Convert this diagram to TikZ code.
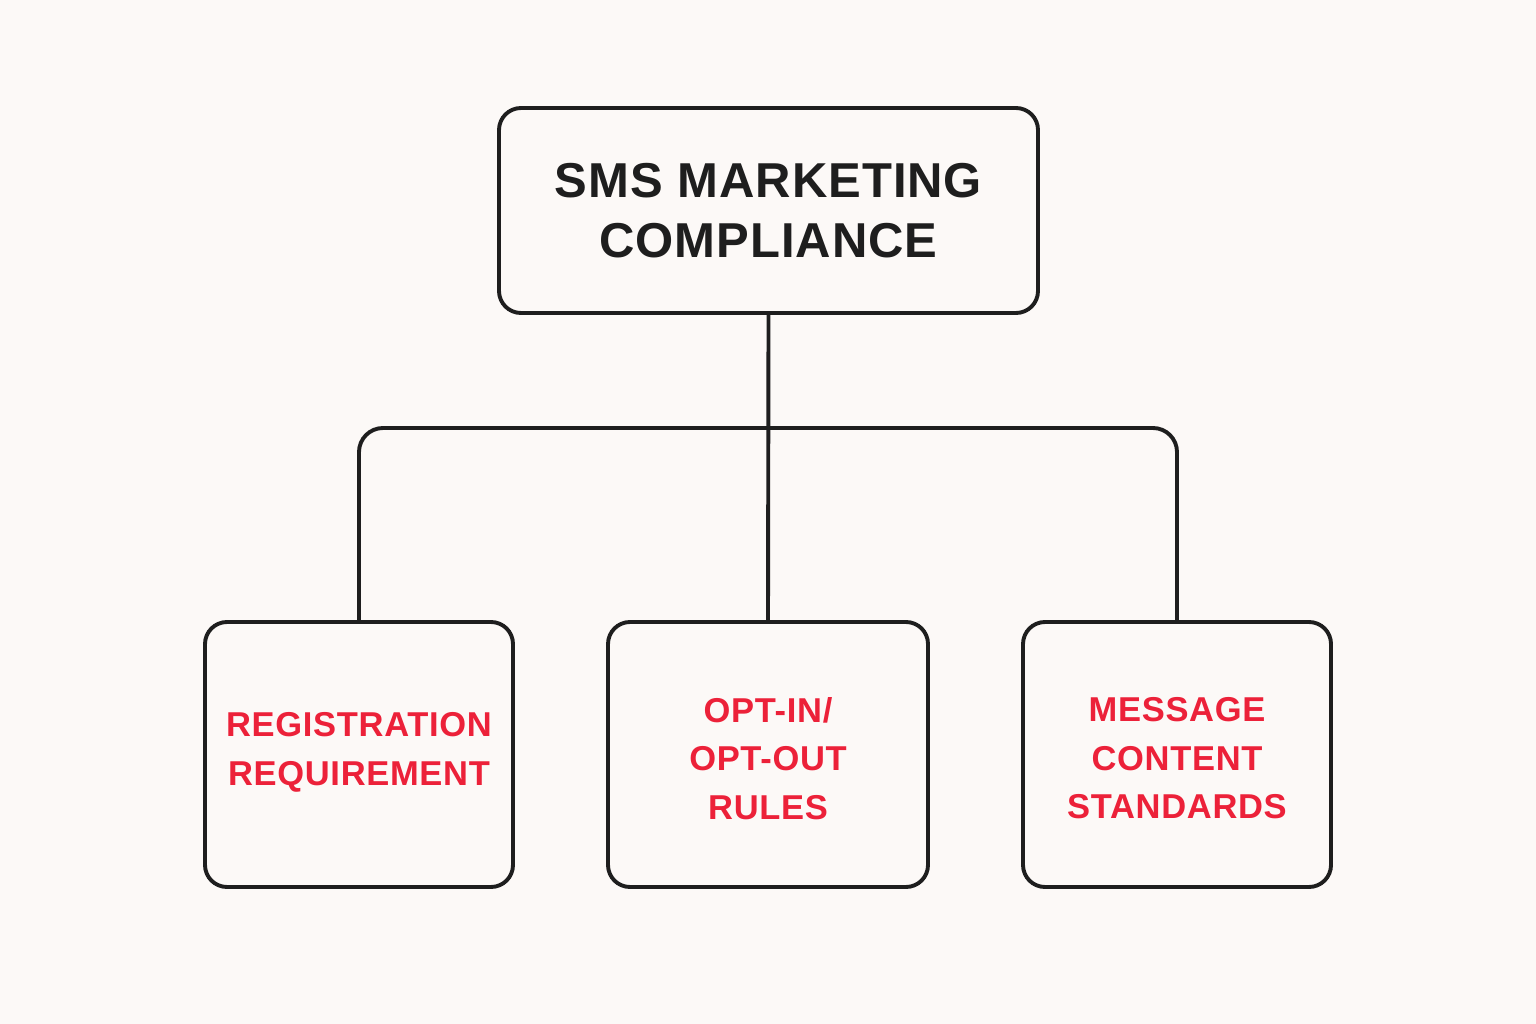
\documentclass[tikz,border=0pt]{standalone}
\usepackage{fontspec}
\setmainfont{Liberation Sans}
\newfontfamily\titlefont[LetterSpace=2]{Liberation Sans Bold}
\newfontfamily\itemfont[LetterSpace=2]{Liberation Sans Bold}
\definecolor{bgc}{HTML}{FCF9F7}
\definecolor{ink}{HTML}{1E1E1E}
\definecolor{redc}{HTML}{EC2139}
\tikzset{
  boxstyle/.style={draw=ink, line width=3.9pt, rounded corners=22pt, fill=bgc, inner sep=0pt, align=center},
  titlebox/.style={boxstyle, minimum width=539pt, minimum height=205pt, font=\titlefont\fontsize{49}{60}\selectfont, text=ink},
  itembox/.style={boxstyle, minimum height=265pt},
  itemtext/.style={inner sep=0pt, align=center, font=\itemfont\fontsize{34.5}{48.5}\selectfont, text=redc},
  linkstyle/.style={draw=ink, line width=3.9pt}
}
\begin{document}
\begin{tikzpicture}[x=1pt,y=-1pt]
\fill[bgc] (0,0) rectangle (1536,1024);
\useasboundingbox (0,0) rectangle (1536,1024);
\node[titlebox] (top) at (768.5,210.5) {SMS MARKETING\\COMPLIANCE};
\node[itembox, minimum width=308pt] (b1) at (359,754.5) {};
\node[itembox, minimum width=320pt] (b2) at (768,754.5) {};
\node[itembox, minimum width=308pt] (b3) at (1177,754.5) {};
\node[itemtext] (t1) at ([yshift=2pt]b1.center) {REGISTRATION\\REQUIREMENT};
\node[itemtext] (t2) at ([yshift=-4pt]b2.center) {OPT-IN/\\OPT-OUT\\RULES};
\node[itemtext] (t3) at ([yshift=-4pt]b3.center) {MESSAGE\\CONTENT\\STANDARDS};
\coordinate (bar) at (768,428);
\draw[linkstyle] (top.south) -- (b2.north);
\draw[linkstyle, rounded corners=24pt] (b1.north) -- (b1.north |- bar) -- (b3.north |- bar) -- (b3.north);
\end{tikzpicture}
\end{document}
